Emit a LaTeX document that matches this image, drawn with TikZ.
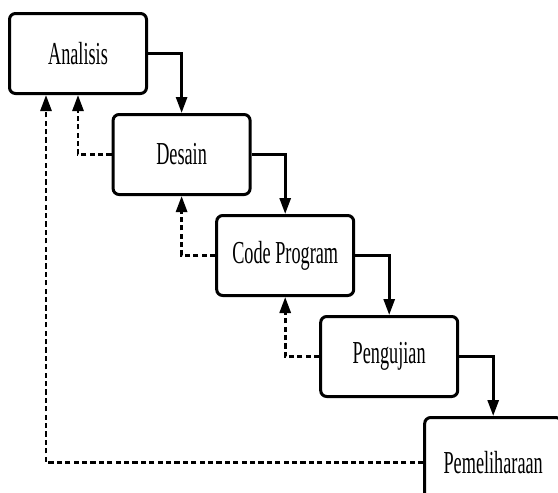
\documentclass[tikz,border=0pt]{standalone}
\usepackage{fontspec}
\setmainfont{Liberation Serif}
\usepackage{graphicx}
\usepackage{tikz}
\usetikzlibrary{positioning,arrows.meta}
\newcommand{\narrow}[1]{\scalebox{0.57}[1]{#1}}

\begin{document}
\begin{tikzpicture}[on grid,
			phase/.style={
				draw,
				line width=1.5pt,
				rounded corners=3pt,
				minimum width=68.5pt,
				minimum height=40pt,
				inner sep=0pt,
				font=\fontsize{16}{18}\selectfont},
			flow/.style={-{Triangle[length=8pt,width=5.5pt]},line width=1.4pt},
			back/.style={flow,dash pattern=on 2.6pt off 1.6pt}]
			
			\useasboundingbox (0,0) rectangle (279pt,-246.5pt);
			
			\node[phase] (analisis) at (39pt,-26.75pt) {\narrow{Analisis}};
			
			\node[phase] (desain) [below right=50.5pt and 51.8pt of analisis] {\narrow{Desain}};
			
			\node[phase] (code) [below right=50.5pt and 51.8pt of desain] {\narrow{Code Program}};
			
			\node[phase] (pengujian) [below right=50.5pt and 52pt of code] {\narrow{Pengujian}};
			
			\node[phase,minimum height=45pt] (pemeliharaan) [below right=53pt and 52pt of pengujian] {\narrow{Pemeliharaan}};
			
			\draw[flow] (analisis.east) -| (desain.north);
			\draw[flow] (desain.east) -| (code.north);
			\draw[flow] (code.east) -| (pengujian.north);
			\draw[flow] (pengujian.east) -| (pemeliharaan.north);
			
			\draw[back] (desain.west) -| (analisis.south);
			\draw[back] (code.west) -| (desain.south);
			\draw[back] (pengujian.west) -| (code.south);
			\draw[back] (pemeliharaan.west) -| ([xshift=-16pt]analisis.south);
			
		\end{tikzpicture}
\end{document}
